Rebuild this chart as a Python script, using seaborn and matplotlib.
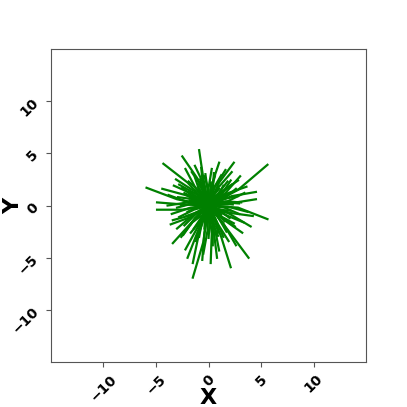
import numpy as np
import pandas as pd
import seaborn as sns
import matplotlib
matplotlib.use('Agg')
import matplotlib.pyplot as plt

# end points and one bend point of each walk (all walks start at the origin)
end_x = [-5.9, -0.9, -2.5, -4.3, 1.0, 2.4, 5.6, 4.5, 4.5, 5.6,
         4.0, 3.8, 2.1, -1.5, -1.5, 0.2, -3.4, -3.6, -4.9, -4.9,
         -3.1, -3.8, -3.5, -2.2, -1.3, 0.3, 1.6, 3.0, 3.6, 3.7,
         3.2, 2.6, 1.0, -0.5, -2.2, -2.6, -3.0, -3.9, -2.8, 2.2,
         2.9, -0.3, 1.4, -1.2, 0.6, -4.4, 4.2, 0.8, -0.6, -2.0,
         1.5, -1.8, 0.5, -1.0, 2.0, -2.1, 1.0, -0.3, 2.3, -2.3,
         0.2, -1.4, 1.8, -0.8, 2.5, -2.6, 0.9, -1.7, 1.2, -0.9,
         2.8, 2.6, 2.1, 1.2, 0.5, -0.4, -1.3, -1.9, -2.5, -2.9,
         -3.0, -2.8, -2.3, -1.7, -0.9, 0.0, 0.9, 1.7, 2.4, 2.9,
         3.1, 1.9, 1.4, 0.3, -0.9, -1.8, -2.2, -2.0, -1.4, -0.4,
         0.6, 1.5, 2.1, 1.2, -1.0, 0.8, -0.5, 2.2, -2.4, 3.3,
         -3.3, 0.4, -0.7, 3.4, -3.4, 1.9, -1.6, 2.8]
end_y = [1.7, 5.3, 4.7, 4.0, 4.1, 4.1, 3.9, 1.3, 0.6, -1.3,
         -2.0, -5.0, -5.9, -6.9, -5.5, -5.5, -3.6, -1.8, 0.3, -0.4,
         2.5, 1.0, -0.8, 3.5, 3.8, 3.5, 3.4, 2.8, 1.8, -0.6,
         -2.6, -3.8, -4.3, -4.6, -4.2, -3.0, -2.2, 0.0, 2.0, 2.0,
         0.2, 3.0, -3.0, -3.4, 2.8, 1.6, -1.0, -5.0, -5.2, -5.0,
         0.8, 0.5, -2.0, 1.8, -1.2, -1.0, 1.6, -1.9, 0.1, 1.2,
         2.2, -2.2, 2.3, 2.5, -2.0, 0.0, -2.6, -1.8, 0.3, -0.8,
         0.9, 1.6, 2.4, 2.9, 3.1, 2.8, 2.7, 2.3, 1.7, 0.8,
         -0.2, -1.1, -1.9, -2.6, -3.0, -3.1, -2.9, -2.5, -1.7, -0.8,
         0.3, 1.1, 1.9, 2.0, 2.0, 1.4, 0.4, -0.6, -1.5, -2.2,
         -2.0, -1.5, -0.5, -0.9, 0.9, 1.0, -1.2, 3.2, -2.8, -1.6,
         1.9, -3.8, 3.6, 1.2, -1.4, -3.4, 3.2, 2.4]
mid_x = [-3.0, -0.5, -1.0, -2.0, 0.3, 1.0, 2.8, 2.2, 2.0, 2.8,
         2.0, 1.8, 1.2, -0.5, -0.9, 0.3, -1.6, -1.7, -2.4, -2.5,
         -1.4, -1.9, -1.7, -1.2, -0.4, 0.0, 0.6, 1.6, 1.6, 1.8,
         1.5, 1.4, 0.6, -0.1, -1.0, -1.4, -1.6, -2.0, -1.2, 1.2,
         1.5, -0.1, 0.7, -0.7, 0.2, -2.2, 2.0, 0.5, -0.4, -1.0,
         0.8, -0.8, 0.4, -0.4, 1.1, -1.0, 0.4, -0.3, 1.2, -1.0,
         0.2, -0.6, 0.8, -0.5, 1.1, -1.3, 0.6, -0.9, 0.6, -0.5,
         1.3, 1.4, 1.2, 0.4, 0.4, 0.0, -0.8, -0.8, -1.3, -1.4,
         -1.5, -1.4, -1.2, -0.7, -0.6, 0.1, 0.3, 0.9, 1.1, 1.5,
         1.6, 0.9, 0.8, 0.3, -0.3, -1.0, -1.1, -1.0, -0.6, -0.3,
         0.2, 0.8, 1.0, 0.6, -0.4, 0.3, -0.1, 0.9, -1.3, 1.6,
         -1.5, 0.4, -0.5, 1.8, -1.6, 0.9, -0.6, 1.2]
mid_y = [0.6, 2.6, 2.5, 2.2, 2.0, 2.2, 1.5, 0.9, 0.2, -0.2,
         -0.8, -2.3, -3.0, -3.5, -2.6, -2.7, -1.6, -1.1, 0.1, -0.4,
         1.4, 0.3, -0.2, 1.6, 1.9, 1.7, 1.8, 1.2, 1.1, -0.1,
         -1.4, -1.7, -2.2, -2.4, -2.0, -1.4, -1.0, 0.3, 1.1, 1.2,
         0.3, 1.5, -1.4, -1.6, 1.4, 1.0, -0.7, -2.5, -2.6, -2.4,
         0.3, 0.4, -1.0, 0.8, -0.5, -0.6, 0.9, -0.9, 0.2, 0.5,
         1.1, -1.0, 1.0, 1.3, -1.0, 0.2, -1.2, -0.8, 0.1, -0.3,
         0.6, 0.6, 1.0, 1.5, 1.4, 1.5, 1.2, 1.3, 0.7, 0.6,
         0.2, -0.4, -0.8, -1.4, -1.4, -1.6, -1.5, -1.1, -1.0, -0.2,
         0.4, 0.7, 0.8, 1.0, 1.0, 0.5, 0.3, -0.1, -0.9, -1.0,
         -1.1, -0.6, -0.4, -0.3, 0.5, 0.6, -0.6, 1.7, -1.2, -0.9,
         1.1, -1.8, 1.7, 0.4, -0.9, -1.8, 1.7, 1.3]

rows = []
for i in range(len(end_x)):
    rows.append({'walk': i, 'step': 0, 'x': 0.0, 'y': 0.0})
    rows.append({'walk': i, 'step': 1, 'x': mid_x[i], 'y': mid_y[i]})
    rows.append({'walk': i, 'step': 2, 'x': end_x[i], 'y': end_y[i]})
df = pd.DataFrame(rows)

fig, ax = plt.subplots(figsize=(4.07, 4.07), dpi=100)
sns.lineplot(data=df, x='x', y='y', units='walk', estimator=None, sort=False,
             color='green', linewidth=1.6, ax=ax)

ax.set_xlim(-15, 15)
ax.set_ylim(-15, 15)
ax.set_xticks([-10, -5, 0, 5, 10])
ax.set_yticks([-10, -5, 0, 5, 10])
ax.set_xlabel('X', fontsize=16, fontweight='bold', va='center')
ax.set_ylabel('Y', fontsize=16, fontweight='bold', va='center')
ax.xaxis.set_label_coords(0.5, -0.115)
ax.yaxis.set_label_coords(-0.118, 0.5)
for lab in ax.get_xticklabels() + ax.get_yticklabels():
    lab.set_rotation(45)
    lab.set_fontweight('bold')
    lab.set_fontsize(10)
for sp in ax.spines.values():
    sp.set_color('#555555')
ax.tick_params(colors='#555555', labelcolor='black')

plt.savefig('out.png', dpi=100)
